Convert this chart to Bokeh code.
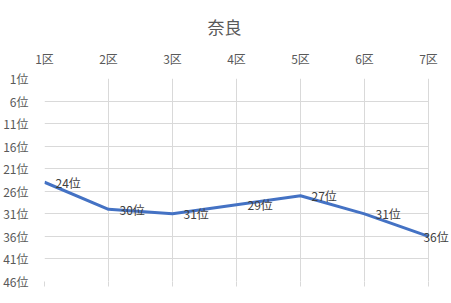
from bokeh.plotting import figure
from bokeh.models import Range1d, FixedTicker, LinearAxis, ColumnDataSource, Label, BoxAnnotation
from bokeh.embed import file_html
from bokeh.resources import INLINE

title = "奈良"
districts = ["1区", "2区", "3区", "4区", "5区", "6区", "7区"]
ranks = [24, 30, 31, 29, 27, 31, 36]
rank_ticks = [1, 6, 11, 16, 21, 26, 31, 36, 41, 46]

FONT = "Noto Sans CJK JP"
GREY = "#595959"
GRID = "#D9D9D9"

xs = list(range(1, len(districts) + 1))
line_src = ColumnDataSource(dict(x=xs, y=ranks))

# frame runs to the right edge so the last data label is not clipped;
# the part right of the last category is blanked out below
x_end = xs[-1] + 0.36

p = figure(width=451, height=303, output_backend="svg", toolbar_location=None,
           x_range=Range1d(xs[0], x_end), y_range=Range1d(46, 1),
           x_axis_location="above",
           min_border_left=44, min_border_right=0, min_border_top=78, min_border_bottom=22)
p.title.text = title
p.title.align = "left"
p.title.offset = 163
p.title.standoff = 16
p.title.text_font = FONT
p.title.text_font_size = "17px"
p.title.text_font_style = "normal"
p.title.text_color = GREY
p.outline_line_color = None

xa = p.xaxis[0]
xa.ticker = FixedTicker(ticks=xs)
xa.major_label_overrides = {i + 1: d for i, d in enumerate(districts)}
xa.axis_line_color = None
xa.major_tick_line_color = None
xa.minor_tick_line_color = None
xa.major_label_text_font = FONT
xa.major_label_text_font_size = "12px"
xa.major_label_text_color = GREY
xa.major_label_standoff = 6

bx = LinearAxis(ticker=FixedTicker(ticks=xs),
                major_label_overrides={i: " " for i in xs},
                major_label_text_font_size="1px",
                axis_line_color=None, major_tick_line_color=GRID,
                major_tick_out=5, major_tick_in=0, minor_tick_line_color=None)
p.add_layout(bx, "below")

ya = p.yaxis[0]
ya.ticker = FixedTicker(ticks=rank_ticks)
ya.major_label_overrides = {r: f"{r}位" for r in rank_ticks}
ya.axis_line_color = None
ya.major_tick_line_color = None
ya.minor_tick_line_color = None
ya.major_label_text_font = FONT
ya.major_label_text_font_size = "12px"
ya.major_label_text_color = GREY
ya.major_label_standoff = 10

p.xgrid[0].ticker = FixedTicker(ticks=xs)
p.ygrid[0].ticker = FixedTicker(ticks=rank_ticks)
p.xgrid.grid_line_color = GRID
p.ygrid.grid_line_color = GRID

# white mask over horizontal grid lines right of the last category
mask = BoxAnnotation(left=xs[-1], fill_color="white", fill_alpha=1.0,
                     line_color=None, level="underlay")
xg = p.xgrid[0]
yg = p.ygrid[0]
others = [r for r in p.center if r is not xg and r is not yg]
p.center = others + [yg, mask, xg]

p.line("x", "y", source=line_src, line_color="#4472C4", line_width=3)

for i, (x, r) in enumerate(zip(xs, ranks)):
    last = i == len(xs) - 1
    p.add_layout(Label(x=x, y=r, text=f"{r}位", x_offset=-5 if last else 11,
                       text_baseline="middle", text_font=FONT,
                       text_font_size="12px", text_color="#404040"))

open("out.html", "w").write(file_html(p, INLINE))
